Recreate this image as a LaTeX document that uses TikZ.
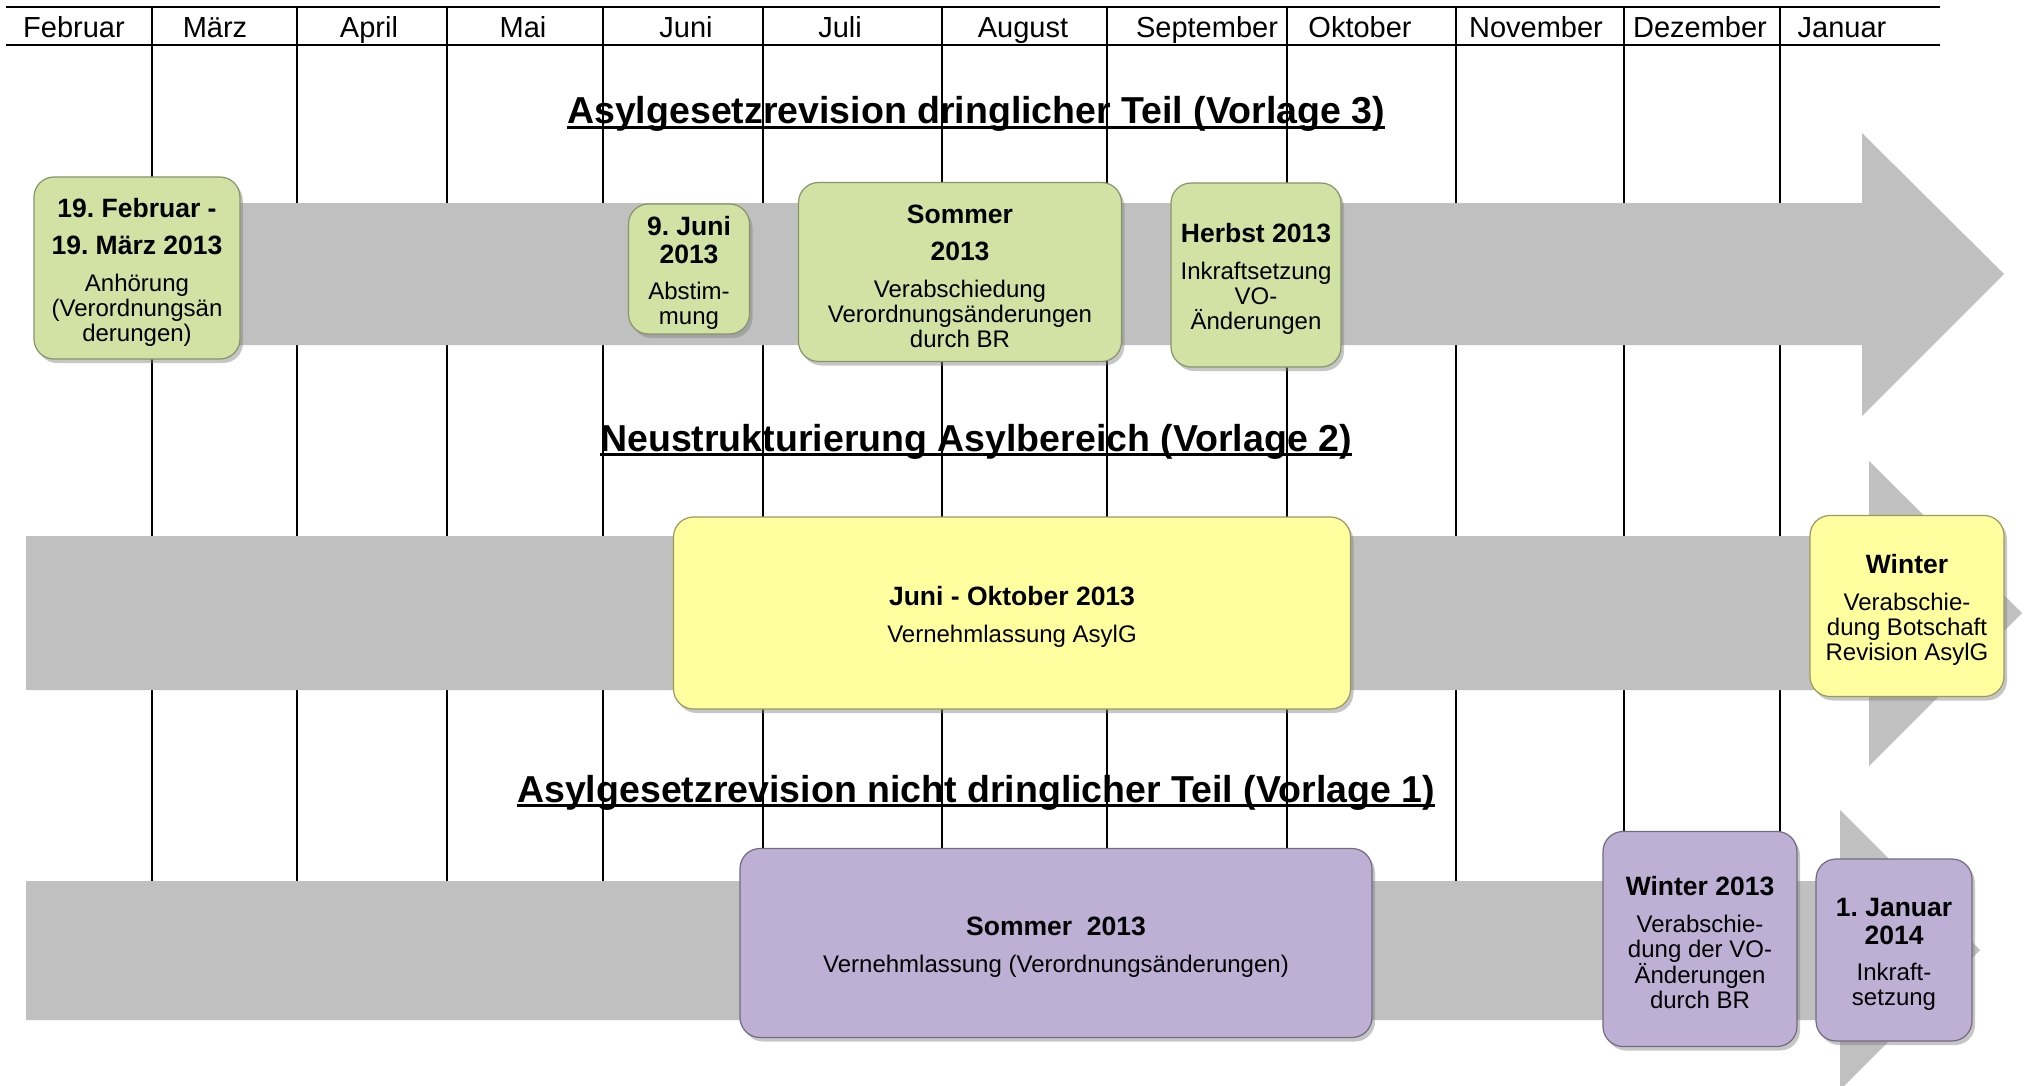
\documentclass[tikz,border=0pt]{standalone}
\usepackage{fontspec}
\setmainfont{Liberation Sans}
\usepackage{tikz}
\usetikzlibrary{shadows}
\usepackage{xcolor}
\frenchspacing
\definecolor{lanegray}{RGB}{192,192,192}
\definecolor{boxgreen}{RGB}{209,226,164}
\definecolor{boxyellow}{RGB}{255,255,160}
\definecolor{boxpurple}{RGB}{190,176,213}
\newsavebox{\titlebox}
\newcommand{\titleline}[1]{\sbox{\titlebox}{#1}\rlap{\rule[-5pt]{\wd\titlebox}{2.6pt}}\usebox{\titlebox}}
\newcommand{\datehead}[1]{{\fontsize{26.5}{25}\selectfont\bfseries #1}}
\newcommand{\firsthead}[1]{{\rule{0pt}{27pt}\fontsize{26.5}{25}\selectfont\bfseries #1}}

\begin{document}
\begin{tikzpicture}[
    x=1pt, y=-1pt,
    month/.style={font=\fontsize{29}{32}\selectfont, anchor=base},
    lane/.style={font=\fontsize{37.5}{40}\selectfont\bfseries, anchor=base},
    headrule/.style={line width=2.8pt, color=black},
    sepline/.style={line width=1.8pt, color=black},
    lanebar/.style={fill=lanegray},
    event/.style={rectangle, rounded corners=20pt, align=center, inner sep=0pt, line width=1.2pt, font=\fontsize{24}{25}\selectfont, drop shadow={shadow xshift=3pt, shadow yshift=-4pt, opacity=0.45}},
    greenbox/.style={event, fill=boxgreen, draw=boxgreen!65!black},
    yellowbox/.style={event, fill=boxyellow, draw=boxyellow!60!black},
    purplebox/.style={event, fill=boxpurple, draw=boxpurple!60!black}
]
    \useasboundingbox (0,0) rectangle (2025,1086);

    \draw[sepline] (152,7) -- (152,900) (297,7) -- (297,900) (447,7) -- (447,900)
        (603,7) -- (603,900) (763,7) -- (763,900) (942,7) -- (942,900)
        (1107,7) -- (1107,900) (1287,7) -- (1287,900) (1456,7) -- (1456,900)
        (1624,7) -- (1624,900) (1780,7) -- (1780,900);
    \draw[headrule] (6,7) -- (1940,7);
    \draw[headrule] (6,45) -- (1940,45);

    \node (feb) [month] at (74,38) {Februar};
    \node (mar) [month] at (215,38) {März};
    \node (apr) [month] at (369,38) {April};
    \node (may) [month] at (523,38) {Mai};
    \node (jun) [month] at (686,38) {Juni};
    \node (jul) [month] at (840,38) {Juli};
    \node (aug) [month] at (1023,38) {August};
    \node (sep) [month] at (1207,38) {September};
    \node (oct) [month] at (1360,38) {Oktober};
    \node (nov) [month] at (1536,38) {November};
    \node (dec) [month] at (1700,38) {Dezember};
    \node (jan) [month] at (1842,38) {Januar};

    \fill[lanebar] (40,203) -- (1862,203) -- (1862,133) -- (2004,274) -- (1862,416) -- (1862,345) -- (40,345) -- cycle;
    \fill[lanebar] (26,536) -- (1869,536) -- (1869,461) -- (2022,613) -- (1869,766) -- (1869,690) -- (26,690) -- cycle;
    \fill[lanebar] (26,881) -- (1840,881) -- (1840,810) -- (1980,950) -- (1840,1090) -- (1840,1020) -- (26,1020) -- cycle;

    \node (lane3) [lane] at (976,124) {\titleline{Asylgesetzrevision dringlicher Teil (Vorlage 3)}};
    \node (lane2) [lane] at (976,451) {\titleline{Neustrukturierung Asylbereich (Vorlage 2)}};
    \node (lane1) [lane] at (976,802) {\titleline{Asylgesetzrevision nicht dringlicher Teil (Vorlage 1)}};

    \node (hearing) [greenbox, minimum width=206pt, minimum height=182pt] at (137,268)
        {\firsthead{19. Februar -}\\[12pt]\datehead{19. März 2013}\\[12pt]Anhörung\\(Verordnungsän\\derungen)};
    \node (vote) [greenbox, minimum width=121pt, minimum height=130pt] at (689,269)
        {\firsthead{9. Juni}\\[3pt]\datehead{2013}\\[11pt]Abstim-\\mung};
    \node (adoption) [greenbox, minimum width=323pt, minimum height=179pt] at (960,272)
        {\firsthead{Sommer}\\[12pt]\datehead{2013}\\[12pt]Verabschiedung\\Verordnungsänderungen\\durch BR};
    \node (inforce) [greenbox, minimum width=170pt, minimum height=184pt] at (1256,275)
        {\firsthead{Herbst 2013}\\[12pt]Inkraftsetzung\\VO-\\Änderungen};

    \node (consult) [yellowbox, minimum width=677pt, minimum height=192pt] at (1012,613)
        {\firsthead{Juni - Oktober 2013}\\[12pt]Vernehmlassung AsylG};
    \node (message) [yellowbox, minimum width=194pt, minimum height=181pt] at (1907,606)
        {\firsthead{Winter}\\[12pt]Verabschie-\\dung Botschaft\\Revision AsylG};

    \node (ordconsult) [purplebox, minimum width=632pt, minimum height=189pt] at (1056,943)
        {\firsthead{Sommer~~2013}\\[12pt]Vernehmlassung (Verordnungsänderungen)};
    \node (ordadopt) [purplebox, minimum width=194pt, minimum height=215pt] at (1700,939)
        {\firsthead{Winter 2013}\\[12pt]Verabschie-\\dung der VO-\\Änderungen\\durch BR};
    \node (start) [purplebox, minimum width=156pt, minimum height=182pt] at (1894,950)
        {\firsthead{1. Januar}\\[3pt]\datehead{2014}\\[11pt]Inkraft-\\setzung};
\end{tikzpicture}
\end{document}
